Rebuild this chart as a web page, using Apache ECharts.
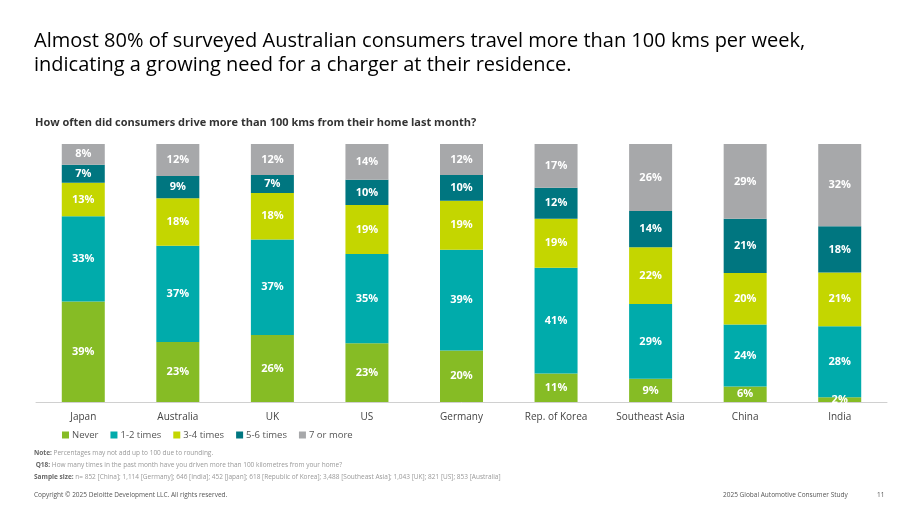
<!DOCTYPE html>
<html>
<head>
<meta charset="utf-8">
<script src="https://cdn.jsdelivr.net/npm/echarts@6/dist/echarts.min.js"></script>
<style>
  html, body { margin: 0; padding: 0; background: #fff; }
  #plot { width: 920px; height: 518px; }
</style>
</head>
<body>
<div id="plot"></div>
<script>
// 数据
const countries = ['Japan', 'Australia', 'UK', 'US', 'Germany', 'Rep. of Korea', 'Southeast Asia', 'China', 'India'];
const never     = [39, 23.3, 26, 22.8, 20, 11, 9, 6, 1.8];
const times12   = [33, 37.3, 37, 34.6, 39, 41, 29, 24, 27.6];
const times34   = [13, 18.4, 18, 19.0, 19, 19, 22, 20, 20.8];
const times56   = [7, 8.6, 7, 9.7, 10, 12, 14, 21, 17.9];
const moreThan7 = [8, 12.4, 12, 13.9, 12, 17, 26, 29, 31.9];

const seriesNames = ['Never', '1-2 times', '3-4 times', '5-6 times', '7 or more'];
const seriesColors = ['#86BC25', '#00ABAB', '#C4D600', '#007680', '#A7A8AA'];

const font = '"Open Sans", "Noto Sans", sans-serif';

function makeSeries(name, data, color) {
    return {
        name: name,
        type: 'bar',
        stack: 'total',
        barWidth: 43,
        data: data,
        itemStyle: { color: color },
        label: {
            show: true,
            position: 'inside',
            color: '#fff',
            fontWeight: 'bold',
            fontSize: 11,
            fontFamily: font,
            formatter: p => Math.round(p.value) + '%'
        }
    };
}

const chart = echarts.init(document.getElementById('plot'));
const allData = [never, times12, times34, times56, moreThan7];

const option = {
    animation: false,
    title: [
        {
            text: 'Almost 80% of surveyed Australian consumers travel more than 100 kms per week,\nindicating a growing need for a charger at their residence.',
            left: 34, top: 29, padding: 0,
            textStyle: { fontFamily: font, fontSize: 20, fontWeight: 'normal', color: '#000', lineHeight: 24 }
        },
        {
            text: 'How often did consumers drive more than 100 kms from their home last month?',
            left: 35, top: 117, padding: 0,
            textStyle: { fontFamily: font, fontSize: 11, fontWeight: 'bold', color: '#333' }
        },
        {
            text: '{b|Note:} Percentages may not add up to 100 due to rounding.\n {b|Q18:} How many times in the past month have you driven more than 100 kilometres from your home?\n{b|Sample size:} n= 852 [China]; 1,114 [Germany]; 646 [India]; 452 [Japan]; 618 [Republic of Korea]; 3,488 [Southeast Asia]; 1,043 [UK]; 821 [US]; 853 [Australia]',
            left: 34, top: 447, padding: 0,
            textStyle: {
                fontFamily: font, fontSize: 6.5, fontWeight: 'normal', color: '#999', lineHeight: 12,
                rich: { b: { fontFamily: font, fontSize: 6.5, fontWeight: 'bold', color: '#666', lineHeight: 12 } }
            }
        },
        {
            text: 'Copyright © 2025 Deloitte Development LLC. All rights reserved.',
            left: 34, top: 492, padding: 0,
            textStyle: { fontFamily: font, fontSize: 6.5, fontWeight: 'normal', color: '#555' }
        },
        {
            text: '2025 Global Automotive Consumer Study',
            left: 723, top: 492, padding: 0,
            textStyle: { fontFamily: font, fontSize: 6.5, fontWeight: 'normal', color: '#555' }
        },
        {
            text: '11',
            left: 877, top: 492, padding: 0,
            textStyle: { fontFamily: font, fontSize: 6.5, fontWeight: 'normal', color: '#555' }
        }
    ],
    legend: {
        data: seriesNames,
        left: 57, top: 425,
        icon: 'rect',
        itemWidth: 7, itemHeight: 7, itemGap: 12,
        textStyle: { fontFamily: font, fontSize: 9.5, color: '#555', padding: [0, 0, 0, -2] }
    },
    grid: { left: 36, right: 33, top: 144, bottom: 116 },
    xAxis: {
        type: 'category',
        data: countries,
        axisLine: { lineStyle: { color: '#d0d0d0' } },
        axisTick: { show: false },
        axisLabel: { fontFamily: font, fontSize: 10, color: '#444', margin: 10 }
    },
    yAxis: { type: 'value', min: 0, max: 100, show: false },
    series: seriesNames.map((n, i) => makeSeries(n, allData[i], seriesColors[i]))
};

chart.setOption(option);
</script>
</body>
</html>
